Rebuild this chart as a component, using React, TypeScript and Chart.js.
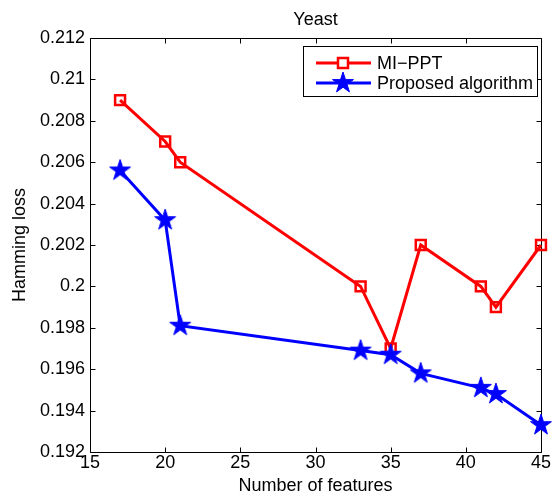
import React, { useEffect, useRef } from "react";
import { Chart, registerables } from "chart.js";

Chart.register(...registerables);

// ---- data ----
const features = [17, 20, 21, 33, 35, 37, 41, 42, 45];
const miPpt = [0.209, 0.207, 0.206, 0.2, 0.197, 0.202, 0.2, 0.199, 0.202];
const proposed = [0.2056, 0.2032, 0.1981, 0.1969, 0.1967, 0.1958, 0.1951, 0.1948, 0.1933];
const seriesNames = ["MI\u2212PPT", "Proposed algorithm"];
const xTickValues = [15, 20, 25, 30, 35, 40, 45];
const yTickValues = [0.192, 0.194, 0.196, 0.198, 0.2, 0.202, 0.204, 0.206, 0.208, 0.21, 0.212];
const chartTitle = "Yeast";
const xTitle = "Number of features";
const yTitle = "Hamming loss";

const RED = "#ff0000";
const BLUE = "#0000ff";
const FONT = "Liberation Sans, Arial, Helvetica, sans-serif";
const FS = 18;

function drawPentagram(ctx: CanvasRenderingContext2D, cx: number, cy: number, R: number, color: string) {
  ctx.save();
  ctx.beginPath();
  for (let i = 0; i < 10; i++) {
    const r = i % 2 === 0 ? R : R * 0.382;
    const a = -Math.PI / 2 + (i * Math.PI) / 5;
    const px = cx + r * Math.cos(a);
    const py = cy + r * Math.sin(a);
    if (i === 0) ctx.moveTo(px, py);
    else ctx.lineTo(px, py);
  }
  ctx.closePath();
  ctx.fillStyle = color;
  ctx.strokeStyle = color;
  ctx.lineWidth = 1;
  ctx.lineJoin = "miter";
  ctx.fill();
  ctx.stroke();
  ctx.restore();
}

function makeStarCanvas(R: number, color: string) {
  const c = document.createElement("canvas");
  const s = Math.ceil(R * 2 + 4);
  c.width = s;
  c.height = s;
  const ctx = c.getContext("2d")!;
  drawPentagram(ctx, s / 2, s / 2, R, color);
  return c;
}

function fmtY(v: number) {
  return String(Number(v.toFixed(3)));
}

export default function App() {
  const ref = useRef<HTMLCanvasElement | null>(null);

  useEffect(() => {
    if (!ref.current) return;
    const star = makeStarCanvas(11, BLUE);

    const framePlugin = {
      id: "frame",
      beforeDatasetsDraw(chart: any) {
        const { ctx, chartArea: a, scales } = chart;
        ctx.save();
        ctx.strokeStyle = "#000";
        ctx.lineWidth = 1;
        const L = Math.round(a.left) + 0.5;
        const R = Math.round(a.right) + 0.5;
        const T = Math.round(a.top) + 0.5;
        const B = Math.round(a.bottom) + 0.5;
        ctx.beginPath();
        ctx.rect(L, T, R - L, B - T);
        const tl = 5;
        xTickValues.forEach((v) => {
          const x = Math.round(scales.x.getPixelForValue(v)) + 0.5;
          ctx.moveTo(x, B);
          ctx.lineTo(x, B - tl);
          ctx.moveTo(x, T);
          ctx.lineTo(x, T + tl);
        });
        yTickValues.forEach((v) => {
          const y = Math.round(scales.y.getPixelForValue(v)) + 0.5;
          ctx.moveTo(L, y);
          ctx.lineTo(L + tl, y);
          ctx.moveTo(R, y);
          ctx.lineTo(R - tl, y);
        });
        ctx.stroke();
        ctx.restore();
      },
      afterDraw(chart: any) {
        const { ctx, chartArea: a } = chart;
        ctx.save();
        ctx.fillStyle = "#000";
        ctx.font = `${FS}px ${FONT}`;
        ctx.textAlign = "center";
        ctx.textBaseline = "alphabetic";
        const cx = (a.left + a.right) / 2;
        ctx.fillText(chartTitle, cx, 25);
        ctx.fillText(xTitle, cx, 491);
        ctx.save();
        ctx.translate(25, (a.top + a.bottom) / 2);
        ctx.rotate(-Math.PI / 2);
        ctx.fillText(yTitle, 0, 0);
        ctx.restore();

        // legend
        const lx = 303.5, ly = 46.5, lw = 234, lh = 50;
        ctx.fillStyle = "#fff";
        ctx.fillRect(lx, ly, lw, lh);
        ctx.strokeStyle = "#000";
        ctx.lineWidth = 1;
        ctx.strokeRect(lx, ly, lw, lh);
        const rows = [63, 83];
        const colors = [RED, BLUE];
        rows.forEach((y, i) => {
          ctx.strokeStyle = colors[i];
          ctx.lineWidth = 3;
          ctx.beginPath();
          ctx.moveTo(316, y);
          ctx.lineTo(371, y);
          ctx.stroke();
          if (i === 0) {
            ctx.lineWidth = 2.5;
            ctx.fillStyle = "#fff";
            ctx.fillRect(338, y - 5, 10, 10);
            ctx.strokeRect(338, y - 5, 10, 10);
          } else {
            drawPentagram(ctx, 343, y, 11, BLUE);
          }
          ctx.fillStyle = "#000";
          ctx.textAlign = "left";
          ctx.textBaseline = "middle";
          ctx.font = `${FS}px ${FONT}`;
          ctx.fillText(seriesNames[i], 377, y + 1);
        });
        ctx.restore();
      },
    };

    const chart = new Chart(ref.current, {
      type: "line",
      data: {
        datasets: [
          {
            label: seriesNames[0],
            data: features.map((x, i) => ({ x, y: miPpt[i] })),
            borderColor: RED,
            backgroundColor: "rgba(0,0,0,0)",
            borderWidth: 3,
            pointStyle: "rect",
            pointRadius: 7,
            pointBorderWidth: 2.5,
            pointBorderColor: RED,
            pointBackgroundColor: "rgba(0,0,0,0)",
            tension: 0,
            clip: false,
            order: 1,
          } as any,
          {
            label: seriesNames[1],
            data: features.map((x, i) => ({ x, y: proposed[i] })),
            borderColor: BLUE,
            backgroundColor: BLUE,
            borderWidth: 3,
            pointStyle: star,
            pointRadius: 11,
            tension: 0,
            clip: false,
            order: 0,
          } as any,
        ],
      },
      options: {
        responsive: false,
        animation: false,
        layout: { padding: { top: 38, right: 11, bottom: 0, left: 0 } },
        plugins: {
          legend: { display: false },
          title: { display: false },
          tooltip: { enabled: false },
        },
        scales: {
          x: {
            type: "linear",
            min: 15,
            max: 45,
            afterBuildTicks: (s: any) => {
              s.ticks = xTickValues.map((v) => ({ value: v }));
            },
            afterFit: (s: any) => {
              s.height = 48;
            },
            grid: { display: false, drawTicks: false },
            border: { display: false },
            ticks: {
              color: "#000",
              font: { family: FONT, size: FS },
              padding: 0,
              maxRotation: 0,
              autoSkip: false,
            },
          },
          y: {
            type: "linear",
            min: 0.192,
            max: 0.212,
            afterBuildTicks: (s: any) => {
              s.ticks = yTickValues.map((v) => ({ value: v }));
            },
            afterFit: (s: any) => {
              s.width = 90;
            },
            grid: { display: false, drawTicks: false },
            border: { display: false },
            ticks: {
              color: "#000",
              font: { family: FONT, size: FS },
              padding: 5,
              autoSkip: false,
              callback: (v: any) => fmtY(Number(v)),
            },
          },
        },
      },
      plugins: [framePlugin],
    });
    return () => chart.destroy();
  }, []);

  return (
    <div style={{ position: "absolute", left: 0, top: 0, width: 555, height: 500, background: "#fff" }}>
      <canvas ref={ref} width={555} height={500} />
    </div>
  );
}
